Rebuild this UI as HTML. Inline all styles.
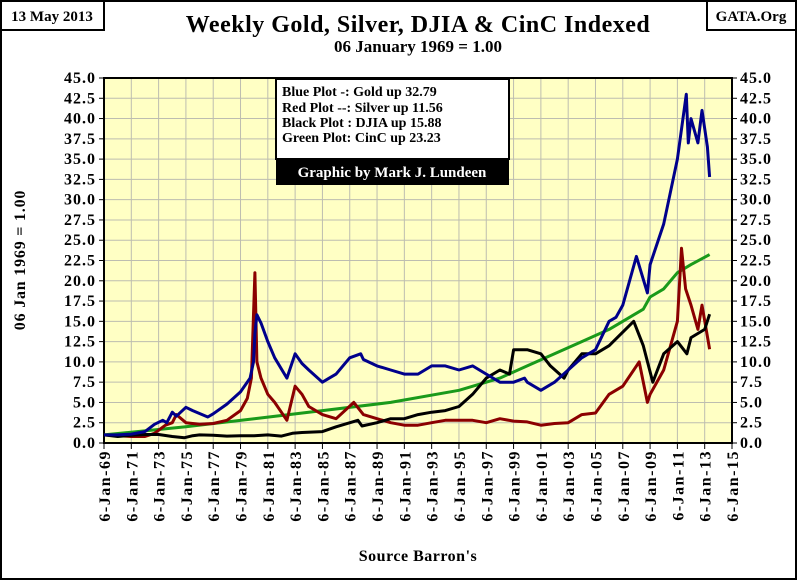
<!DOCTYPE html>
<html><head><meta charset="utf-8"><style>
body{margin:0;background:#fff;}
svg{display:block;font-family:"Liberation Serif",serif;font-weight:bold;}
</style></head><body>
<svg id="chart" width="799" height="581" viewBox="0 0 799 581">
<rect x="1" y="1" width="795" height="578" fill="#fff" stroke="#000" stroke-width="2"/>
<rect x="1" y="1" width="103" height="29" fill="#fff" stroke="#000" stroke-width="2"/>
<text x="52" y="21" font-size="15" text-anchor="middle">13 May 2013</text>
<rect x="707" y="1" width="89" height="29" fill="#fff" stroke="#000" stroke-width="2"/>
<text x="751" y="21" font-size="15" text-anchor="middle">GATA.Org</text>
<text x="418" y="32" font-size="24" text-anchor="middle" letter-spacing="0.5">Weekly Gold, Silver, DJIA &amp; CinC Indexed</text>
<text x="418" y="52" font-size="17" text-anchor="middle">06 January 1969 = 1.00</text>
<text transform="translate(25,260) rotate(-90)" font-size="16" text-anchor="middle" letter-spacing="0.8">06 Jan 1969 = 1.00</text>
<text x="418" y="561" font-size="16" text-anchor="middle" letter-spacing="0.5">Source Barron's</text>
<rect x="104" y="78" width="628" height="365" fill="#ffffc4"/>
<g id="grid"></g><g id="axes"></g><g id="series"></g>
<rect x="276" y="79" width="233" height="80" fill="#fff" stroke="#000" stroke-width="2"/>
<rect x="276" y="159" width="233" height="26" fill="#000"/>
<text x="392" y="177" font-size="15" fill="#fff" text-anchor="middle">Graphic by Mark J. Lundeen</text>
<g font-size="14">
<text x="282" y="96">Blue Plot -: Gold up 32.79</text>
<text x="282" y="112">Red Plot --: Silver up 11.56</text>
<text x="282" y="127">Black Plot : DJIA up 15.88</text>
<text x="282" y="142">Green Plot: CinC up 23.23</text>
</g>
</svg>
<script>
const yTicks=[0,2.5,5,7.5,10,12.5,15,17.5,20,22.5,25,27.5,30,32.5,35,37.5,40,42.5,45];
const xTickYears=[69,71,73,75,77,79,81,83,85,87,89,91,93,95,97,99,1,3,5,7,9,11,13,15];
const goldT=[1969,1970,1971,1972,1972.7,1973.3,1973.6,1974,1974.3,1975,1975.5,1976.6,1977,1978,1979,1979.7,1979.95,1980.05,1980.2,1980.5,1981,1981.5,1982.4,1983,1983.5,1984,1985,1985.5,1986,1987,1987.8,1988,1989,1990,1991,1992,1993,1994,1995,1996,1997,1998,1999,1999.8,2000,2001,2002,2003,2004,2005,2006,2006.5,2007,2008,2008.8,2009,2010,2011,2011.65,2011.8,2012,2012.5,2012.8,2013.2,2013.36];
const goldV=[1,1,1.1,1.4,2.3,2.8,2.5,3.8,3.3,4.4,4,3.2,3.6,4.8,6.3,8,10,13.5,15.8,14.8,12.5,10.5,8,11,9.8,9,7.5,8,8.5,10.5,11,10.3,9.5,9,8.5,8.5,9.5,9.5,9,9.5,8.5,7.5,7.5,8,7.5,6.5,7.5,9,10.5,11.5,15,15.5,17,23,18.5,22,27,35,43,37,40,37,41,36.5,32.79];
const silverT=[1969,1970,1971,1972,1972.7,1973.5,1974,1974.3,1975,1976,1977,1978,1979,1979.5,1979.8,1980.05,1980.2,1980.5,1981,1981.5,1982.4,1983,1983.5,1984,1985,1986,1987.3,1988,1989,1990,1991,1992,1993,1994,1995,1996,1997,1998,1999,2000,2001,2002,2003,2004,2005,2006,2007,2008.2,2008.8,2009,2010,2011,2011.3,2011.6,2012,2012.5,2012.8,2013.36];
const silverV=[1,0.9,0.8,0.8,1.2,2.2,2.5,3.5,2.5,2.3,2.4,2.8,4,5.5,8,21,10,8,6,5,2.8,7,6,4.5,3.5,3,5,3.5,3,2.5,2.2,2.2,2.5,2.8,2.8,2.8,2.5,3,2.7,2.6,2.2,2.4,2.5,3.5,3.7,6,7,10,5,6,9,15,24,19,17,14,17,11.56];
const djiaT=[1969,1970,1971,1972,1973,1974,1974.9,1975.5,1976,1977,1978,1979,1980,1981,1982,1982.8,1983.5,1985,1986,1987.6,1987.9,1989,1990,1991,1992,1993,1994,1995,1996,1997,1998,1998.7,1999,2000,2001,2001.7,2002.7,2003,2004,2005,2006,2007.8,2008.5,2009.2,2010,2011,2011.7,2012,2013,2013.36];
const djiaV=[1,0.8,0.95,1.05,1.05,0.8,0.65,0.9,1.0,0.95,0.85,0.9,0.9,1.0,0.85,1.2,1.3,1.4,2.0,2.8,2.1,2.5,3.0,3.0,3.5,3.8,4.0,4.5,6,8,9,8.5,11.5,11.5,11,9.5,8,9,11,11,12,15,12,7.5,11,12.5,11,13,14,15.88];
const cincT=[1969,1975,1980,1985,1990,1995,1998,2000,2002,2004,2006,2007.5,2008.5,2009,2010,2011,2012,2013.36];
const cincV=[1,2.0,3.0,4.0,5.0,6.5,8,9.5,11,12.5,14,15.5,16.5,18,19,21,22,23.23];
const NS='http://www.w3.org/2000/svg';
const L=104,R=732,T=78,B=443;
const xs=t=>L+(t-1969)*(R-L)/46;
const ys=v=>B-v*(B-T)/45;
const grid=document.getElementById('grid'),axes=document.getElementById('axes'),series=document.getElementById('series');
function mk(tag,attrs,parent){const e=document.createElementNS(NS,tag);for(const k in attrs)e.setAttribute(k,attrs[k]);parent.appendChild(e);return e;}
yTicks.forEach(v=>{
  const y=ys(v);
  if(v>0){const g=mk('line',{x1:L,x2:R,y1:y,y2:y,stroke:'#bdbdb0','stroke-width':1},grid);
  
  }
  const t1=mk('text',{x:L-8,y:y+5,'font-size':16,'letter-spacing':1,'text-anchor':'end'},axes);t1.textContent=v.toFixed(1);
  
  
  const t2=mk('text',{x:R+8,y:y+5,'font-size':16,'letter-spacing':1},axes);t2.textContent=v.toFixed(1);
  
  
  mk('line',{x1:L-5,x2:L,y1:y,y2:y,stroke:'#000'},axes);
  mk('line',{x1:R,x2:R+5,y1:y,y2:y,stroke:'#000'},axes);
});
xTickYears.forEach(yr=>{
  const full=yr>=69?1900+yr:2000+yr;const x=xs(full);
  if(full>1969&&full<2015){const g=mk('line',{x1:x,x2:x,y1:T,y2:B,stroke:'#bdbdb0','stroke-width':1},grid);
  
  }
  mk('line',{x1:x,x2:x,y1:B,y2:B+6,stroke:'#000'},axes);
  const t=mk('text',{transform:`translate(${x+6},${B+7}) rotate(-90)`,'font-size':16,'letter-spacing':1.5,'text-anchor':'end'},axes);
  t.textContent='6-Jan-'+String(yr).padStart(2,'0');
  
  
});
const f=mk('rect',{x:L,y:T,width:R-L,height:B-T,fill:'none',stroke:'#000','stroke-width':2},axes);


function line(T_,V,col,name){
  const p=mk('polyline',{points:T_.map((t,i)=>xs(t).toFixed(1)+','+ys(V[i]).toFixed(1)).join(' '),fill:'none',stroke:col,'stroke-width':3,'stroke-linejoin':'round'},series);
  
  
}
line(cincT,cincV,'#1a9a1a','cinc-line');
line(silverT,silverV,'#8b0000','silver-line');
line(djiaT,djiaV,'#000','djia-line');
line(goldT,goldV,'#00008b','gold-line');
</script>
</body></html>
